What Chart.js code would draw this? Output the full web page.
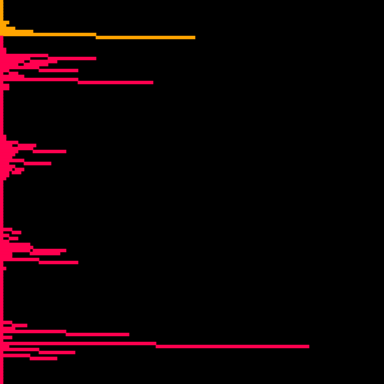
<!DOCTYPE html>
<html>
<head>
<meta charset="utf-8">
<script src="https://cdn.jsdelivr.net/npm/chart.js@4"></script>
<style>
  html, body { margin: 0; padding: 0; background: #000; }
  #wrap { width: 384px; height: 384px; background: #000; }
</style>
</head>
<body>
<div id="wrap"><canvas id="c" width="384" height="384"></canvas></div>
<script>
// 128 rows (bins), top to bottom
const rowLabels = Array.from({length: 128}, (_, i) => String(i + 1));

// main bar length for each row
const baseVals = [
  1,1,1,1,1,1,1,3,2,5,11,32,1,1,1,1,
  2,2,16,10,8,6,13,3,1,8,26,1,3,3,1,1,
  1,1,1,1,1,1,1,1,1,1,1,1,1,2,2,6,
  4,11,6,5,4,8,3,5,4,3,3,2,1,1,1,1,
  1,1,1,1,1,1,1,1,1,1,1,1,4,1,3,1,
  3,10,11,10,4,4,13,1,1,2,1,1,1,1,1,1,
  1,1,1,1,1,1,1,1,1,1,1,4,1,5,22,1,
  4,1,52,3,13,1,10,1,1,1,1,1,1,1,1,1
];

// continuation segments [start, end] (null where a row has none)
const floatVals = new Array(128).fill(null);
const floatRows = [12, 19, 20, 21, 23, 24, 27, 48, 50, 54, 56, 57, 77, 79, 83, 84, 87, 108, 111, 115, 117, 119];
const floatSpans = [
  [32,65],[16,32],[10,19],[8,16],[13,26],[3,6],[26,51],
  [6,12],[11,22],[8,17],[5,8],[4,7],
  [4,7],[3,6],[11,22],[10,20],[13,26],
  [4,9],[22,43],[52,103],[13,25],[10,19]
];
floatRows.forEach((r, i) => { floatVals[r] = floatSpans[i]; });

const ORANGE = '#FFA500';
const RED = '#FF0050';
const orangeBaseRows = 12;   // rows 0..11 orange
const orangeFloatRows = [12];

const baseColors = baseVals.map((_, i) => i < orangeBaseRows ? ORANGE : RED);
const floatColors = floatVals.map((_, i) => orangeFloatRows.includes(i) ? ORANGE : RED);

new Chart(document.getElementById('c'), {
  type: 'bar',
  data: {
    labels: rowLabels,
    datasets: [
      { data: baseVals, backgroundColor: baseColors, grouped: false,
        barPercentage: 1, categoryPercentage: 1, borderWidth: 0 },
      { data: floatVals, backgroundColor: floatColors, grouped: false,
        barPercentage: 1, categoryPercentage: 1, borderWidth: 0 }
    ]
  },
  options: {
    indexAxis: 'y',
    responsive: false,
    animation: false,
    devicePixelRatio: 1,
    layout: { padding: 0 },
    plugins: { legend: { display: false }, tooltip: { enabled: false } },
    scales: {
      x: { display: false, min: 0, max: 128 },
      y: { display: false }
    }
  }
});
</script>
</body>
</html>
